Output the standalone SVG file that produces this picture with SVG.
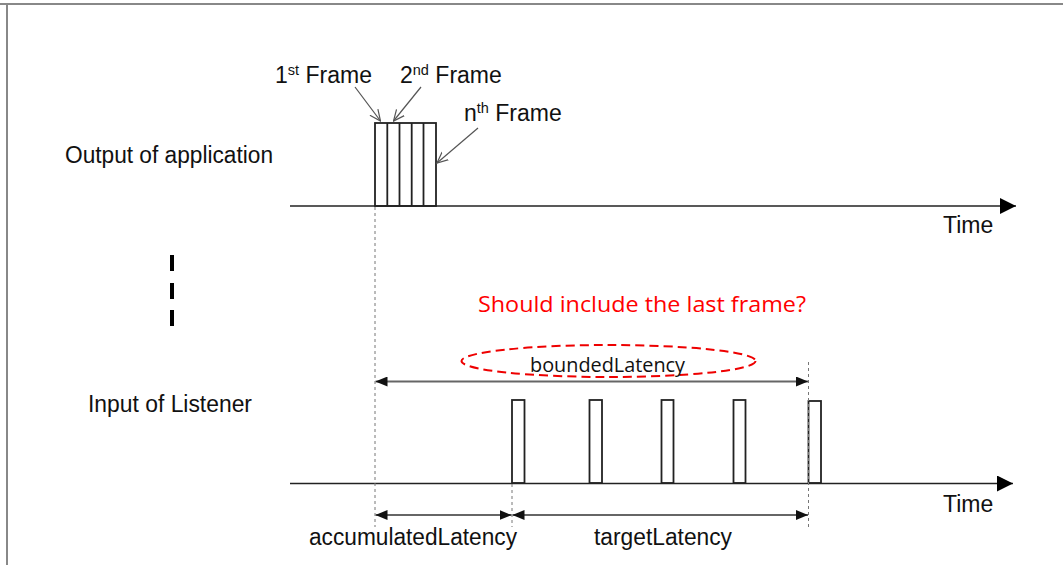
<svg xmlns="http://www.w3.org/2000/svg" width="1063" height="565" viewBox="0 0 1063 565">
  <style>
    .lbl { font-family: "Liberation Sans", Arial, sans-serif; font-size: 23px; fill: #111; }
    .sup { font-size: 14.5px; }
    .cal { font-family: "Open Sans", "Liberation Sans", sans-serif; fill: #111; }
    .axis { stroke: #222; stroke-width: 1.3; fill: none; }
    .frame { stroke: #222; stroke-width: 1.8; fill: #fff; }
    .guide { stroke: #777; stroke-width: 1; stroke-dasharray: 3 3; fill: none; }
    .span { stroke: #666; stroke-width: 1.8; fill: none; }
    .pointer { stroke: #555; stroke-width: 1.2; fill: none; }
  </style>
  <defs>
    <marker id="axisHead" viewBox="0 0 16 16" refX="16" refY="8" markerWidth="16" markerHeight="16" markerUnits="userSpaceOnUse" orient="auto">
      <path d="M0,0 L16,8 L0,16 Z" fill="#000"/>
    </marker>
    <marker id="spanHead" viewBox="0 0 12 10" refX="12" refY="5" markerWidth="12" markerHeight="10" markerUnits="userSpaceOnUse" orient="auto-start-reverse">
      <path d="M0,0 L12,5 L0,10 Z" fill="#111"/>
    </marker>
    <marker id="openHead" viewBox="0 0 12 12" refX="11" refY="6" markerWidth="12" markerHeight="12" markerUnits="userSpaceOnUse" orient="auto">
      <path d="M0,1 L11,6 L0,11" fill="none" stroke="#555" stroke-width="1.2"/>
    </marker>
  </defs>

  <rect width="1063" height="565" fill="#fff"/>

  <!-- frame border (top and left edges) -->
  <g id="border" stroke="#888" stroke-width="2" fill="none">
    <line x1="0" y1="4" x2="1063" y2="4"/>
    <line x1="7" y1="4" x2="7" y2="565"/>
  </g>

  <!-- row labels -->
  <g id="label-output"><text class="lbl" x="65" y="163" textLength="208" lengthAdjust="spacingAndGlyphs">Output of application</text></g>
  <g id="label-input"><text class="lbl" x="88" y="412" textLength="164" lengthAdjust="spacingAndGlyphs">Input of Listener</text></g>

  <!-- vertical ellipsis between the two rows -->
  <g id="ellipsis" fill="#000">
    <rect x="170" y="255" width="4" height="16"/>
    <rect x="170" y="283" width="4" height="16"/>
    <rect x="170" y="310" width="4" height="16"/>
  </g>

  <!-- output frames burst -->
  <g id="output-frames">
    <rect class="frame" x="375" y="123" width="61" height="83"/>
    <line class="frame" x1="387.3" y1="123" x2="387.3" y2="206"/>
    <line class="frame" x1="399.5" y1="123" x2="399.5" y2="206"/>
    <line class="frame" x1="411.7" y1="123" x2="411.7" y2="206"/>
    <line class="frame" x1="423.5" y1="123" x2="423.5" y2="206"/>
  </g>

  <!-- frame callouts -->
  <g id="frame-labels">
    <text class="lbl" x="275" y="83">1<tspan class="sup" dy="-8">st</tspan><tspan dy="8"> Frame</tspan></text>
    <text class="lbl" x="400" y="83">2<tspan class="sup" dy="-8">nd</tspan><tspan dy="8"> Frame</tspan></text>
    <text class="lbl" x="464" y="121">n<tspan class="sup" dy="-8">th</tspan><tspan dy="8"> Frame</tspan></text>
  </g>

  <!-- listener frames -->
  <g id="listener-frames">
    <rect class="frame" x="512" y="400" width="12.5" height="83"/>
    <rect class="frame" x="589.5" y="400" width="12.5" height="83"/>
    <rect class="frame" x="661.5" y="400" width="12" height="83"/>
    <rect class="frame" x="733.5" y="400" width="12" height="83"/>
    <rect class="frame" x="808.5" y="401" width="12.5" height="82"/>
  </g>

  <!-- connectors -->
  <g id="connectors">
    <!-- time axes -->
    <line class="axis" x1="290" y1="206" x2="1016" y2="206" marker-end="url(#axisHead)"/>
    <line class="axis" x1="290" y1="483.5" x2="1013" y2="483.5" marker-end="url(#axisHead)"/>

    <!-- guide lines -->
    <line class="guide" x1="375" y1="207" x2="375" y2="527"/>
    <line class="guide" x1="512" y1="484" x2="512" y2="527"/>
    <line class="guide" x1="808.5" y1="362" x2="808.5" y2="527"/>

    <!-- frame pointers -->
    <line class="pointer" x1="355" y1="87" x2="380.5" y2="121" marker-end="url(#openHead)"/>
    <line class="pointer" x1="421" y1="87" x2="393.5" y2="121" marker-end="url(#openHead)"/>
    <line class="pointer" x1="478" y1="128" x2="437" y2="163" marker-end="url(#openHead)"/>

    <!-- latency spans -->
    <line class="span" x1="375.5" y1="381.5" x2="808" y2="381.5" marker-start="url(#spanHead)" marker-end="url(#spanHead)"/>
    <line class="span" x1="375.5" y1="515" x2="511.5" y2="515" marker-start="url(#spanHead)" marker-end="url(#spanHead)"/>
    <line class="span" x1="512.5" y1="515" x2="808" y2="515" marker-start="url(#spanHead)" marker-end="url(#spanHead)"/>
  </g>

  <!-- axis labels -->
  <g id="time-labels">
    <text class="lbl" x="943" y="233">Time</text>
    <text class="lbl" x="943" y="512">Time</text>
  </g>

  <!-- latency labels -->
  <g id="latency-labels">
    <text class="lbl" x="309" y="545" textLength="208" lengthAdjust="spacingAndGlyphs">accumulatedLatency</text>
    <text class="lbl" x="594" y="545" textLength="138" lengthAdjust="spacingAndGlyphs">targetLatency</text>
  </g>

  <!-- bounded latency with question -->
  <g id="bounded-latency">
    <ellipse cx="608.5" cy="361" rx="147" ry="16" fill="none" stroke="#e00" stroke-width="2" stroke-dasharray="9 5"/>
    <text class="cal" x="530" y="372" font-size="20" textLength="155" lengthAdjust="spacingAndGlyphs">boundedLatency</text>
    <text x="478" y="312" font-family="Open Sans, Liberation Sans, sans-serif" font-size="22.5" fill="#f00" textLength="328" lengthAdjust="spacingAndGlyphs">Should include the last frame?</text>
  </g>
</svg>
